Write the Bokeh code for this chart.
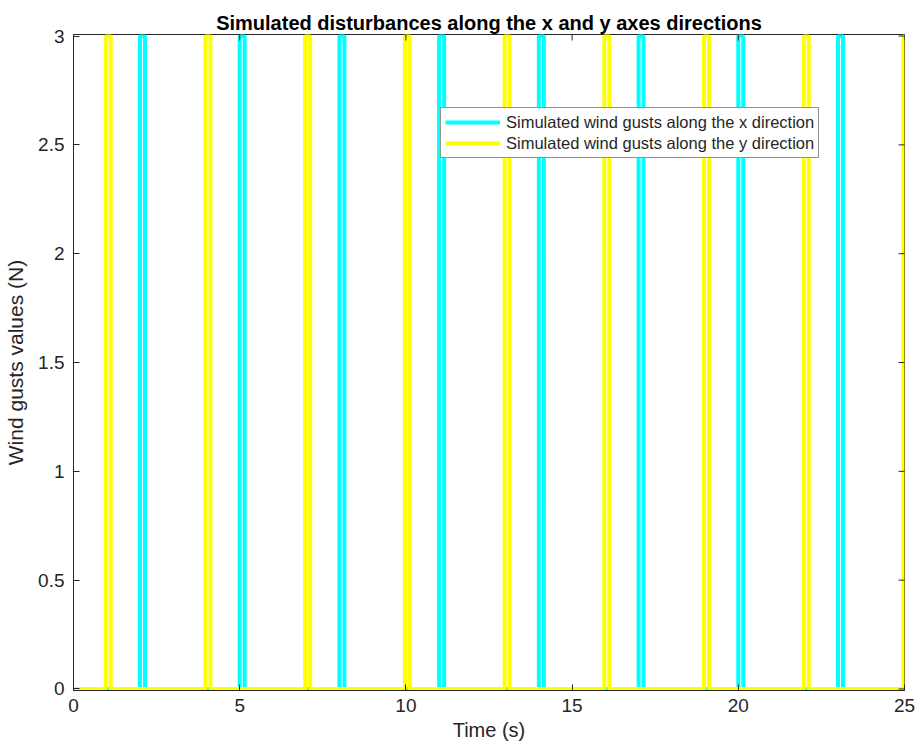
from bokeh.plotting import figure
from bokeh.models import Range1d, FixedTicker, Legend, LegendItem
from bokeh.embed import file_html
from bokeh.resources import INLINE

# Data
x_pulse_starts = [2, 5, 8, 11, 14, 17, 20, 23]          # cyan gusts (x direction)
y_pulse_starts = [0.97, 3.97, 6.97, 9.97, 12.97, 15.97, 18.97, 21.97, 24.97]  # yellow gusts (y direction)
pulse_width = 0.15
amplitude = 3.0
t_end = 25.0
x_ticks = [0, 5, 10, 15, 20, 25]
y_ticks = [0, 0.5, 1, 1.5, 2, 2.5, 3]
y_tick_labels = {0: "0", 0.5: "0.5", 1: "1", 1.5: "1.5", 2: "2", 2.5: "2.5", 3: "3"}


def step_series(starts, width, amp, end):
    xs, ys = [0.0], [0.0]
    for s in starts:
        xs += [s, s, s + width, s + width]
        ys += [0.0, amp, amp, 0.0]
    xs.append(end + 1)
    ys.append(0.0)
    return xs, ys


FONT = "Liberation Sans"
TXT = "#262626"
PAD = 0.007

p = figure(width=919, height=754, output_backend="svg", toolbar_location=None,
           x_range=Range1d(0, 25), y_range=Range1d(-PAD, 3 + PAD),
           min_border_left=73, min_border_right=15, min_border_top=34, min_border_bottom=64)
p.background_fill_color = "white"
p.border_fill_color = "white"
p.xgrid.visible = False
p.ygrid.visible = False
p.outline_line_color = TXT
p.outline_line_width = 1

xs_c, ys_c = step_series(x_pulse_starts, pulse_width, amplitude, t_end)
xs_y, ys_y = step_series(y_pulse_starts, pulse_width, amplitude, t_end)
r_c = p.line(xs_c, ys_c, line_color="#00FFFF", line_width=4)
r_y = p.line(xs_y, ys_y, line_color="#FFFF00", line_width=4)

# mirrored inward ticks on top and right (MATLAB "box on")
p.scatter(x=x_ticks, y=[3 + PAD] * len(x_ticks), marker="dash", angle=1.5708,
          size=12, line_color=TXT, line_width=1)
p.scatter(x=[25] * len(y_ticks), y=y_ticks, marker="dash",
          size=12, line_color=TXT, line_width=1)

p.title.text = "Simulated disturbances along the x and y axes directions"
p.title.align = "center"
p.title.text_font = FONT
p.title.text_font_size = "20px"
p.title.text_font_style = "bold"
p.title.text_color = "black"
p.title.standoff = 2

for ax in (p.xaxis[0], p.yaxis[0]):
    ax.axis_line_color = TXT
    ax.major_tick_line_color = TXT
    ax.major_tick_in = 6
    ax.major_tick_out = 0
    ax.minor_tick_line_color = None
    ax.major_label_text_font = FONT
    ax.major_label_text_font_size = "19px"
    ax.major_label_text_color = TXT
    ax.axis_label_text_font = FONT
    ax.axis_label_text_color = TXT
    ax.axis_label_text_font_style = "normal"

p.xaxis[0].ticker = FixedTicker(ticks=x_ticks)
p.yaxis[0].ticker = FixedTicker(ticks=y_ticks)
p.yaxis[0].major_label_overrides = y_tick_labels
p.xaxis[0].axis_label = "Time (s)"
p.yaxis[0].axis_label = "Wind gusts values (N)"
p.xaxis[0].axis_label_text_font_size = "20px"
p.yaxis[0].axis_label_text_font_size = "21px"
p.xaxis[0].major_label_standoff = 8
p.yaxis[0].major_label_standoff = 9
p.xaxis[0].axis_label_standoff = 4
p.yaxis[0].axis_label_standoff = 8

legend = Legend(items=[
    LegendItem(label="Simulated wind gusts along the x direction", renderers=[r_c]),
    LegendItem(label="Simulated wind gusts along the y direction", renderers=[r_y]),
], location=(367, 532))
legend.label_text_font = FONT
legend.label_text_font_size = "16.5px"
legend.label_text_color = TXT
legend.border_line_color = TXT
legend.border_line_width = 1
legend.background_fill_color = "white"
legend.background_fill_alpha = 1
legend.glyph_width = 55
legend.glyph_height = 20
legend.label_height = 20
legend.spacing = 1
legend.padding = 4
legend.margin = 0
legend.label_standoff = 6
p.add_layout(legend, "center")

open("out.html", "w").write(file_html(p, INLINE))
